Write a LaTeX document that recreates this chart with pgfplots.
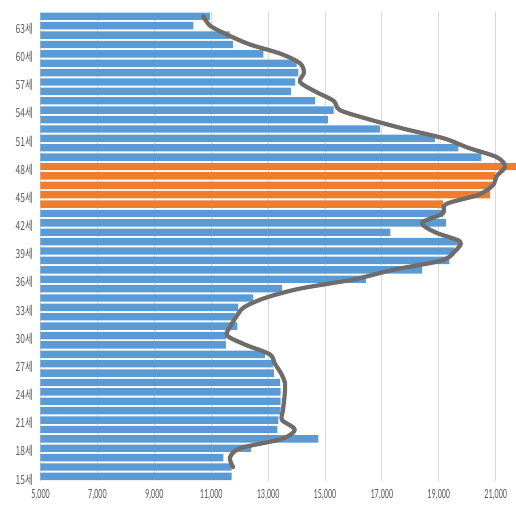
\documentclass[border=0pt]{standalone}
\usepackage{pgfplots}
\pgfplotsset{compat=1.18}
\usepackage{graphicx}
\usepackage{fontspec}
\setmainfont{Carlito}
\newfontfamily\cjk{Noto Sans CJK KR}
\definecolor{bblue}{HTML}{5B9BD5}
\definecolor{borange}{HTML}{ED7D31}
\definecolor{lgray}{HTML}{D9D9D9}
\definecolor{lblgray}{HTML}{595959}
\definecolor{lineg}{RGB}{112,108,106}
\newcommand{\sx}[1]{\scalebox{0.58}[1]{#1}}
\newcommand{\sy}[1]{\scalebox{0.68}[1]{#1}}
\begin{document}
\begin{tikzpicture}
\useasboundingbox (-40.5pt,-28.9pt) rectangle (475.5pt,481.1pt);
\begin{axis}[
  at={(0,0)}, anchor=south west,
  scale only axis, width=475.5pt, height=469.5pt,
  xmin=5000, xmax=21714, ymin=14.5, ymax=64.5,
  bar width=7.4pt, bar shift=0pt,
  xtick={5000,7000,9000,11000,13000,15000,17000,19000,21000},
  xticklabels={{\sx{5,000}},{\sx{7,000}},{\sx{9,000}},{\sx{11,000}},{\sx{13,000}},{\sx{15,000}},{\sx{17,000}},{\sx{19,000}},{\sx{21,000}}},
  ytick={15,18,21,24,27,30,33,36,39,42,45,48,51,54,57,60,63},
  yticklabels={{\sy{15세}},{\sy{18세}},{\sy{21세}},{\sy{24세}},{\sy{27세}},{\sy{30세}},{\sy{33세}},{\sy{36세}},{\sy{39세}},{\sy{42세}},{\sy{45세}},{\sy{48세}},{\sy{51세}},{\sy{54세}},{\sy{57세}},{\sy{60세}},{\sy{63세}}},
  xticklabel style={font=\fontsize{14}{14}\selectfont, text=lblgray, yshift=-7pt, inner sep=1pt},
  yticklabel style={font=\cjk\fontsize{12.5}{12.5}\selectfont, text=lblgray, xshift=-4pt, yshift=-3pt},
  xmajorgrids, grid style={lgray, line width=0.8pt},
  axis line style={draw=none},
  major tick length=0pt,
  clip=true,
]
\addplot[xbar, fill=bblue, draw=none] coordinates {
(10950,64) (10370,63) (11650,62) (11760,61) (12830,60) (14000,59) (14060,58) (13950,57) (13800,56) (14650,55)
(15300,54) (15100,53) (16930,52) (18870,51) (19690,50) (20500,49)
(19140,43) (19250,42) (17300,41) (19720,40) (19550,39) (19370,38) (18410,37) (16440,36) (13480,35) (12470,34)
(11950,33) (11840,32) (11920,31) (11520,30) (11520,29) (12890,28) (13180,27) (13200,26) (13420,25) (13440,24)
(13440,23) (13440,22) (13360,21) (13330,20) (14770,19) (12400,18) (11430,17) (11720,16) (11720,15)
};
\addplot[xbar, fill=borange, draw=none] coordinates {
(21800,48) (20970,47) (20870,46) (20800,45) (19140,44)
};
\addplot[lineg, line width=4.2pt, smooth, tension=0.5, no marks, line cap=round, line join=round] coordinates {
(10730,64) (10960,63) (11590,62) (12360,61) (13450,60) (14120,59) (14260,58) (14120,57) (14650,56) (15300,55)
(15530,54) (16580,53) (17800,52) (19180,51) (20030,50) (21040,49) (21330,48) (21040,47) (20900,46) (20400,45)
(19250,44) (19140,43) (18410,42) (18870,41) (19750,40) (19570,39) (19110,38) (17390,37) (16050,36) (14120,35)
(12890,34) (12150,33) (11880,32) (11680,31) (11560,30) (12220,29) (13060,28) (13240,27) (13450,26) (13590,25)
(13590,24) (13560,23) (13520,22) (13490,21) (13940,20) (13490,19) (12020,18) (11660,17) (11770,16)
};
\end{axis}
\end{tikzpicture}
\end{document}
